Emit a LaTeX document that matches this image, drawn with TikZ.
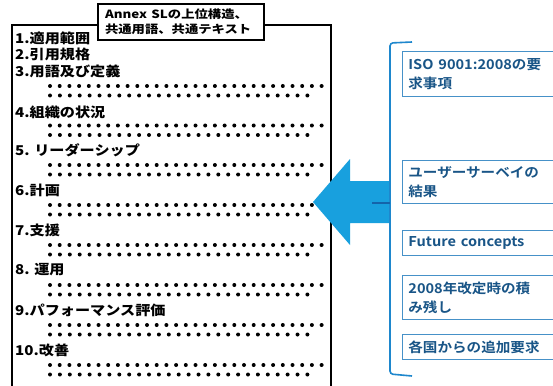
\documentclass[tikz,border=0pt]{standalone}
\usepackage{fontspec}
\usepackage{graphicx}
\IfFontExistsTF{Noto Sans CJK JP Black}
  {\newfontfamily\jph{Noto Sans CJK JP Black}[CharacterWidth=Proportional]
   \newfontfamily\jpt{Noto Sans CJK JP Black}}
  {\newfontfamily\jph{Noto Sans CJK JP Bold}[CharacterWidth=Proportional]
   \newfontfamily\jpt{Noto Sans CJK JP Bold}}
\newfontfamily\jpr{Noto Sans CJK JP Bold}[CharacterWidth=Proportional]
\definecolor{arrowblue}{RGB}{24,160,222}
\definecolor{bracketblue}{RGB}{30,135,205}
\definecolor{bracketdark}{RGB}{20,100,170}
\definecolor{boxline}{RGB}{70,145,200}
\definecolor{boxtext}{RGB}{25,85,135}
\newcommand\hx[1]{\scalebox{1.12}[1]{#1}}
\newcommand\tx[1]{\scalebox{1.18}[1]{#1}}
\newcommand\rx[1]{\scalebox{1.08}[1]{#1}}
\tikzset{
  head/.style={anchor=west, inner sep=0pt, font=\jph\fontsize{13.5}{13}\selectfont},
  titlebox/.style={draw=black, line width=1.1pt, fill=white, align=left,
    text width=152pt, inner xsep=7pt, minimum height=36pt,
    font=\jpt\fontsize{11.3}{15}\selectfont},
  rbox/.style={draw=boxline, line width=0.8pt, anchor=north west, align=left,
    text width=150pt, inner xsep=6pt, text=boxtext,
    font=\jpr\fontsize{13.5}{19}\selectfont},
  mainframe/.style={line width=1.8pt},
  brace/.style={bracketblue, line width=1.6pt, rounded corners=3pt},
}
\newcommand\mydotrows[1]{%
  \foreach \i in {0,...,28} \fill (50+\i*9.7,#1) circle (2pt);
  \foreach \i in {0,...,26} \fill (50+\i*9.9,#1+9.5) circle (2pt);
}
\begin{document}
\begin{tikzpicture}[x=1pt,y=-1pt]
\useasboundingbox (0,0) rectangle (553,385);
\clip (0,0) rectangle (553,385);
\fill[white] (0,0) rectangle (553,385);

% main frame
\draw[mainframe] (12,400) -- (12,25) -- (331,25) -- (331,400);

% headings
\node[head] (h1) at (15,38) {\hx{1.適用範囲}};
\node[head] (h2) at (15,54.5) {\hx{2.引用規格}};
\node[head] (h3) at (15,71) {\hx{3.用語及び定義}};
\mydotrows{86}
\node[head] (h4) at (15,112) {\hx{4.組織の状況}};
\mydotrows{125.5}
\node[head] (h5) at (15,150.5) {\hx{5. リーダーシップ}};
\mydotrows{165}
\node[head] (h6) at (15,190) {\hx{6.計画}};
\mydotrows{205}
\node[head] (h7) at (15,230) {\hx{7.支援}};
\mydotrows{245}
\node[head] (h8) at (15,270) {\hx{8. 運用}};
\mydotrows{285}
\node[head] (h9) at (15,310) {\hx{9.パフォーマンス評価}};
\mydotrows{325}
\node[head] (h10) at (15,350) {\hx{10.改善}};
\mydotrows{365}

% title box
\node[titlebox] (title) at (181,22) {\tx{Annex SLの上位構造、}\\\tx{共通用語、共通テキスト}};

% arrow
\fill[arrowblue] (313,202) -- (350,159) -- (350,181) -- (389,181) -- (389,223)
  -- (350,223) -- (350,245) -- cycle;

% brace
\draw[brace] (412,42) -- (390,43) -- (390,374) -- (412,376);
\draw[bracketdark, line width=1.6pt] (390,203) -- (372,203);

% right boxes
\node[rbox, minimum height=45pt] (r1) at (402,51) {\rx{ISO 9001:2008の要}\\\rx{求事項}};
\node[rbox, minimum height=43pt] (r2) at (402,160) {\rx{ユーザーサーベイの}\\\rx{結果}};
\node[rbox, minimum height=25pt] (r3) at (402,230) {\rx{Future concepts}};
\node[rbox, minimum height=44pt] (r4) at (402,275) {\rx{2008年改定時の積}\\\rx{み残し}};
\node[rbox, minimum height=25pt] (r5) at (402,334) {\rx{各国からの追加要求}};
\end{tikzpicture}
\end{document}
